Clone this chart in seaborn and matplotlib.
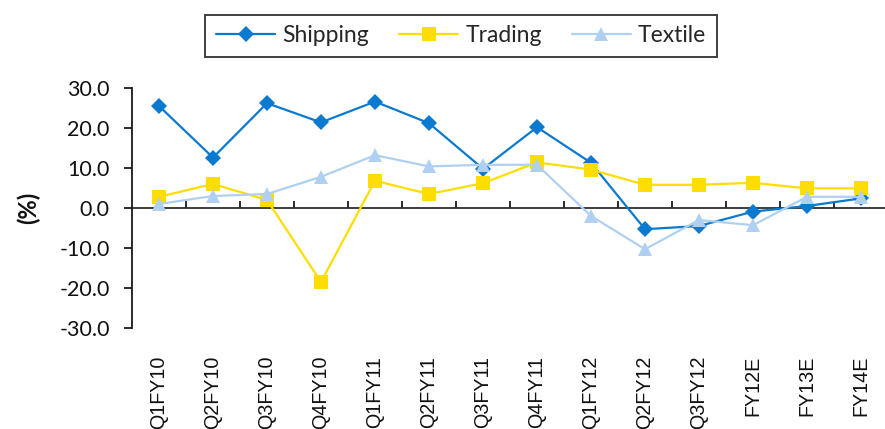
import matplotlib
matplotlib.use("Agg")
import matplotlib.pyplot as plt
import numpy as np
import pandas as pd
import seaborn as sns


PERIODS = [
    "Q1FY10", "Q2FY10", "Q3FY10", "Q4FY10", "Q1FY11", "Q2FY11", "Q3FY11",
    "Q4FY11", "Q1FY12", "Q2FY12", "Q3FY12", "FY12E", "FY13E", "FY14E",
]
SHIPPING = [25.5, 12.6, 26.2, 21.4, 26.6, 21.2, 9.8, 20.2, 11.3, -5.3, -4.5, -0.9, 0.5, 2.4]
TRADING = [2.8, 6.0, 2.0, -18.5, 6.8, 3.5, 6.2, 11.4, 9.6, 5.8, 5.8, 6.3, 4.9, 4.9]
TEXTILE = [1.0, 3.0, 3.5, 7.8, 13.2, 10.4, 10.8, 10.8, -2.0, -10.3, -3.0, -4.3, 2.8, 2.8]
Y_TICKS = [-30, -20, -10, 0, 10, 20, 30]

COLORS = {"Shipping": "#0a7ad0", "Trading": "#ffdd00", "Textile": "#b0d0f2"}
MARKERS = {"Shipping": "D", "Trading": "s", "Textile": "^"}
SIZES = {"Shipping": 8.5, "Trading": 10, "Textile": 10.5}


def build_frame() -> pd.DataFrame:
    df = pd.DataFrame(
        {"pos": np.arange(len(PERIODS)), "Shipping": SHIPPING, "Trading": TRADING, "Textile": TEXTILE}
    )
    return df.melt(id_vars="pos", var_name="series", value_name="value")


def main() -> None:
    sns.set_theme(style="white")
    plt.rcParams["font.family"] = ["Lato", "DejaVu Sans"]
    plt.rcParams["axes.unicode_minus"] = False

    data = build_frame()
    fig = plt.figure(figsize=(8.85, 4.29), dpi=100)
    ax = fig.add_axes([132 / 885, 1 - 328 / 429, 756 / 885, 240 / 429])

    for name in ["Shipping", "Trading", "Textile"]:
        sub = data[data["series"] == name]
        sns.lineplot(
            data=sub, x="pos", y="value", ax=ax, color=COLORS[name], marker=MARKERS[name],
            markersize=SIZES[name], markeredgewidth=0, linewidth=1.6, label=name,
        )

    ax.set_xlim(-0.5, len(PERIODS) - 0.5)
    ax.set_ylim(-30, 30)
    ax.set_yticks(Y_TICKS)
    ax.set_yticklabels([f"{v:.1f}" for v in Y_TICKS], fontsize=15.5, color="#111111")
    ax.tick_params(axis="y", direction="out", length=6, width=1.3, color="#1a1a1a", pad=10, left=True)

    ax.set_xticks(np.arange(len(PERIODS)))
    ax.set_xticklabels(PERIODS, rotation=90, fontsize=14.2, family="Liberation Sans",
                       va="top", ha="center", color="#111111")
    ax.tick_params(axis="x", length=0, pad=20)
    ax.set_xlabel("")
    ax.set_ylabel("(%)", fontsize=17, fontweight="bold", labelpad=14, color="#111111")

    for side in ["top", "right", "bottom"]:
        ax.spines[side].set_visible(False)
    ax.spines["left"].set_color("#1a1a1a")
    ax.spines["left"].set_linewidth(1.3)

    zero_axis = ax.secondary_xaxis(0.5)
    zero_axis.set_xticks(np.arange(len(PERIODS) - 1) + 0.5)
    zero_axis.set_xticklabels([])
    zero_axis.tick_params(direction="out", length=5, width=1.3, color="#1a1a1a")
    zero_axis.spines["bottom"].set_color("#1a1a1a")
    zero_axis.spines["bottom"].set_linewidth(1.6)

    ax.legend_.remove()
    handles, labels = ax.get_legend_handles_labels()
    leg = fig.legend(
        handles, labels, ncol=3, loc="center", bbox_to_anchor=(461 / 885, 1 - 36 / 429),
        frameon=True, fancybox=False, edgecolor="#111111", fontsize=16.5, handlelength=2.6,
        columnspacing=1.3, handletextpad=0.3, borderpad=0.45,
    )
    leg.get_frame().set_linewidth(1.4)

    fig.savefig("out.png", dpi=100)
    plt.close(fig)


if __name__ == "__main__":
    main()
